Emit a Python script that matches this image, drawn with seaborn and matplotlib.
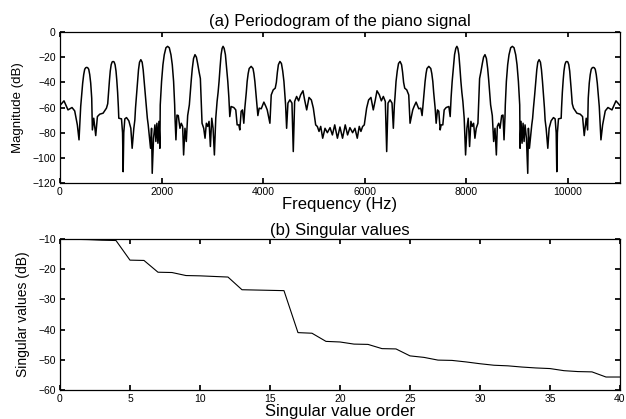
import numpy as np
import pandas as pd
import seaborn as sns
import matplotlib
matplotlib.use("Agg")
from matplotlib import pyplot as plt

# half of the periodogram (0 .. fs/2); right half is its mirror
fs = 11025
half_freq = [0, 79, 158, 237, 290, 342, 375,
             408, 428, 447, 467, 487, 507, 527, 546, 566, 586, 605, 625,
             638, 665, 704, 737, 783, 849, 915, 940,
             960, 975, 990, 1008, 1027, 1046, 1066, 1085, 1103, 1118, 1135, 1150,
             1158, 1211, 1232, 1244, 1256, 1277, 1310, 1356, 1395, 1421, 1454, 1474,
             1487, 1507, 1526, 1546, 1566, 1592, 1618, 1638, 1658, 1680, 1704,
             1720, 1737, 1763, 1783, 1803, 1816, 1842, 1869, 1888, 1908, 1928, 1948, 1967,
             1974, 2000, 2027, 2053, 2086, 2119, 2152, 2185, 2211, 2237, 2258,
             2264, 2283, 2303, 2329, 2362, 2388, 2415, 2434, 2461, 2487, 2514,
             2547, 2565, 2585, 2605, 2630, 2658, 2686, 2710, 2740, 2764, 2780,
             2797, 2830, 2856, 2882, 2909, 2935, 2961, 2988, 3014, 3040, 3067,
             3093, 3113, 3132, 3152, 3172, 3192, 3211, 3232, 3257, 3280, 3304, 3325,
             3343, 3369, 3422, 3461, 3488, 3521, 3540, 3567, 3593, 3619, 3639,
             3652, 3668, 3685, 3705, 3725, 3764, 3800, 3818, 3837, 3860, 3883,
             3896, 3922, 3962, 4014, 4054, 4080, 4133, 4159, 4198, 4238,
             4260, 4280, 4300, 4330, 4360, 4385, 4409, 4430, 4442,
             4462, 4488, 4527, 4567, 4593, 4620, 4659, 4698, 4738, 4784, 4817, 4857,
             4903, 4949, 4988, 5034, 5067, 5100, 5133, 5172, 5218, 5264, 5317, 5363,
             5409, 5462, 5512]
half_db = [-58.4, -54.7, -61.9, -60.0, -62.7, -73.8, -85.7,
           -59.2, -50.0, -40.6, -33.9, -29.6, -28.4, -28.1, -28.4, -29.6, -33.9, -40.6, -52.6,
           -77.8, -68.5, -82.3, -67.2, -65.3, -64.5, -60.5, -57.0,
           -46.0, -38.0, -31.0, -26.0, -23.8, -23.4, -23.8, -26.0, -31.0, -38.0, -48.0, -60.0,
           -68.5, -69.0, -80.0, -111.0, -80.0, -69.0, -68.0, -70.6, -76.5, -92.4, -76.5, -70.0,
           -60.5, -50.0, -39.3, -30.0, -24.0, -22.0, -24.0, -30.0, -39.3, -50.0, -60.5,
           -68.5, -73.8, -84.4, -92.4, -76.5, -112.3, -84.4, -73.8, -87.0, -72.5, -88.4, -71.0, -92.4,
           -58.0, -39.3, -26.0, -18.1, -12.5, -11.4, -12.5, -18.1, -26.0, -39.3, -58.0,
           -67.2, -85.7, -66.0, -66.4, -76.5, -72.5, -75.0, -97.7, -76.5, -87.0, -66.4,
           -57.9, -48.0, -38.0, -29.0, -21.0, -18.0, -20.0, -25.0, -32.0, -37.0, -55.0,
           -72.5, -76.5, -84.4, -72.5, -75.0, -71.0, -91.0, -68.5, -76.5, -97.7, -68.5,
           -55.2, -48.0, -39.3, -28.0, -18.0, -13.0, -11.4, -13.0, -18.0, -28.0, -39.3, -52.0,
           -67.2, -59.2, -60.0, -61.9, -73.8, -73.8, -77.8, -63.0, -61.9, -72.5, -60.5,
           -55.0, -48.0, -39.3, -33.0, -29.0, -27.3, -29.0, -33.0, -39.3, -50.0, -60.5,
           -66.4, -60.5, -61.0, -55.7, -59.2, -61.9, -72.5, -50.0, -46.0, -44.6,
           -40.0, -32.0, -26.0, -23.4, -25.0, -31.0, -39.3, -52.0, -58.0,
           -76.5, -56.5, -53.9, -56.5, -95.0, -55.2, -51.2, -54.7, -49.9, -46.7, -54.0, -61.9,
           -52.0, -54.0, -60.5, -73.8, -75.1, -79.0, -75.0, -84.4, -76.5, -80.0, -76.0, -81.8,
           -73.8, -84.4, -75.5]

# singular values, order 1..40
sv_order = list(range(1, 41))
sv_db = [-10.1, -10.2, -10.4, -10.5, -17.0, -17.1, -21.0, -21.1, -22.1, -22.2, -22.4, -22.6,
         -26.8, -26.9, -27.0, -27.1, -41.0, -41.2, -43.9, -44.1, -44.8, -44.9, -46.3, -46.4,
         -48.7, -49.2, -50.1, -50.2, -50.7, -51.3, -51.8, -52.0, -52.4, -52.7, -52.9, -53.6,
         -53.9, -54.0, -55.7, -55.7]

# full spectrum: mirror the half around fs/2
hf = np.array(half_freq, dtype=float)
hd = np.array(half_db)
freq = np.concatenate([hf, fs - hf[-2::-1]])
mag = np.concatenate([hd, hd[-2::-1]])
spec = pd.DataFrame({"freq": freq, "db": mag})
svd = pd.DataFrame({"order": sv_order, "db": sv_db})

sns.set_theme(style="ticks")
plt.rcParams.update({
    "font.family": ["Liberation Sans", "DejaVu Sans"],
    "text.color": "black", "axes.labelcolor": "black", "axes.edgecolor": "black",
    "xtick.color": "black", "ytick.color": "black",
    "xtick.direction": "in", "ytick.direction": "in",
    "xtick.top": True, "ytick.right": True,
    "xtick.major.size": 3.5, "ytick.major.size": 3.5,
    "axes.linewidth": 0.9,
})

fig = plt.figure(figsize=(6.26, 4.19), dpi=100)
ax1 = fig.add_axes([0.0958, 0.5632, 0.8946, 0.3604])
ax2 = fig.add_axes([0.0958, 0.0692, 0.8946, 0.3604])

sns.lineplot(data=spec, x="freq", y="db", ax=ax1, color="black", linewidth=1.1,
             estimator=None, sort=False)
ax1.set_xlim(0, fs)
ax1.set_ylim(-120, 0)
ax1.set_xticks(range(0, 11000, 2000))
ax1.set_yticks(range(-120, 1, 20))
ax1.set_title("(a) Periodogram of the piano signal", fontsize=12, pad=4)
ax1.set_xlabel("Frequency (Hz)", fontsize=12, labelpad=0)
ax1.set_ylabel("Magnitude (dB)", fontsize=9.5, labelpad=6)

sns.lineplot(data=svd, x="order", y="db", ax=ax2, color="black", linewidth=0.8,
             estimator=None, sort=False)
ax2.set_xlim(0, 40)
ax2.set_ylim(-60, -10)
ax2.set_xticks(range(0, 41, 5))
ax2.set_yticks(range(-60, -9, 10))
ax2.set_title("(b) Singular values", fontsize=12, pad=3)
ax2.set_xlabel("Singular value order", fontsize=12, labelpad=0)
ax2.set_ylabel("Singular values (dB)", fontsize=10, labelpad=6)

for ax in (ax1, ax2):
    ax.tick_params(labelsize=7.5, pad=3)
    for s in ax.spines.values():
        s.set_visible(True)

fig.savefig("out.png", dpi=100)
